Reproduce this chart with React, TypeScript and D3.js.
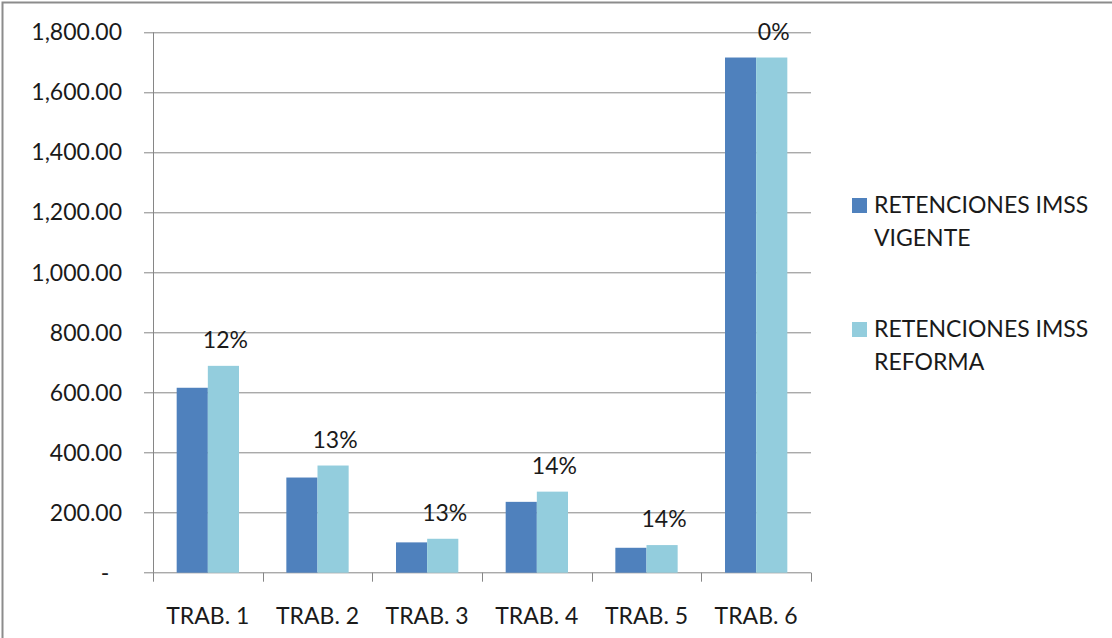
import { useEffect, useRef } from "react";
import * as d3 from "d3";

const CATEGORIES = ["TRAB. 1", "TRAB. 2", "TRAB. 3", "TRAB. 4", "TRAB. 5", "TRAB. 6"];
const VIGENTE = [616, 317, 101, 236, 83, 1716];
const REFORMA = [689, 357, 113, 270, 92, 1716];
const PCT_LABELS = ["12%", "13%", "13%", "14%", "14%", "0%"];
const Y_TICKS = [0, 200, 400, 600, 800, 1000, 1200, 1400, 1600, 1800];
const SERIES = [
  { name: ["RETENCIONES IMSS", "VIGENTE"], color: "#4f81bd" },
  { name: ["RETENCIONES IMSS", "REFORMA"], color: "#93cddd" },
];

const W = 1112;
const H = 638;
const FONT = "Lato, 'Open Sans', sans-serif";
const FS = 23;

export default function App() {
  const svgRef = useRef<SVGSVGElement>(null);

  useEffect(() => {
    const svg = svgRef.current;
    if (!svg) return;
    const s = d3.select(svg);
    s.selectAll("*").remove();

    const m = { top: 32.3, left: 153, right: W - 811, bottom: H - 572.7 };
    const iW = W - m.left - m.right;
    const iH = H - m.top - m.bottom;
    const grid = "#868686";

    // outer chart border (only top and left visible, rest is cropped)
    s.append("path")
      .attr("d", `M2.5,${H} V2.5 H${W}`)
      .attr("fill", "none")
      .attr("stroke", "#8c8c8c")
      .attr("stroke-width", 2);

    const g = s.append("g").attr("transform", `translate(${m.left},${m.top})`);

    const x0 = d3.scaleBand<string>().domain(CATEGORIES).range([0, iW]).padding(0);
    const x1 = d3
      .scaleBand<number>()
      .domain([0, 1])
      .range([0, x0.bandwidth()])
      .paddingInner(0)
      .paddingOuter(0.76);
    const y = d3.scaleLinear().domain([0, 1800]).range([iH, 0]);

    // gridlines + y ticks
    g.append("g")
      .selectAll("line")
      .data(Y_TICKS)
      .join("line")
      .attr("x1", -9)
      .attr("x2", iW)
      .attr("y1", (d) => Math.round(y(d)) + 0.5)
      .attr("y2", (d) => Math.round(y(d)) + 0.5)
      .attr("stroke", grid)
      .attr("stroke-width", 1);

    // y labels
    g.append("g")
      .selectAll("text")
      .data(Y_TICKS)
      .join("text")
      .attr("x", (d) => (d === 0 ? -48 : -31))
      .attr("y", (d) => y(d))
      .attr("dy", "0.35em")
      .attr("text-anchor", (d) => (d === 0 ? "middle" : "end"))
      .attr("font-family", FONT)
      .attr("font-size", FS)
      .attr("fill", "#1a1a1a")
      .text((d) => (d === 0 ? "-" : d3.format(",.2f")(d)));

    // y axis line
    g.append("line")
      .attr("x1", 0.5)
      .attr("x2", 0.5)
      .attr("y1", 0)
      .attr("y2", iH)
      .attr("stroke", grid);

    // category tick marks
    const bounds = CATEGORIES.map((c) => x0(c) ?? 0).concat([iW]);
    g.append("g")
      .selectAll("line")
      .data(bounds)
      .join("line")
      .attr("x1", (d) => Math.round(d) + 0.5)
      .attr("x2", (d) => Math.round(d) + 0.5)
      .attr("y1", iH)
      .attr("y2", iH + 9)
      .attr("stroke", grid);

    // bars
    const cat = g
      .selectAll<SVGGElement, string>(".cat")
      .data(CATEGORIES)
      .join("g")
      .attr("class", "cat")
      .attr("transform", (d) => `translate(${x0(d)},0)`);

    [VIGENTE, REFORMA].forEach((vals, si) => {
      cat
        .append("rect")
        .attr("x", x1(si) ?? 0)
        .attr("width", x1.bandwidth())
        .attr("y", (_d, i) => y(vals[i]))
        .attr("height", (_d, i) => iH - y(vals[i]))
        .attr("fill", SERIES[si].color);
    });

    // percent labels above the reforma bar
    cat
      .append("text")
      .attr("x", (x1(1) ?? 0) + x1.bandwidth() / 2 + 2)
      .attr("y", (_d, i) => y(REFORMA[i]) - 18)
      .attr("text-anchor", "middle")
      .attr("font-family", FONT)
      .attr("font-size", FS)
      .attr("fill", "#1a1a1a")
      .text((_d, i) => PCT_LABELS[i]);

    // category labels
    g.append("g")
      .selectAll("text")
      .data(CATEGORIES)
      .join("text")
      .attr("x", (d) => (x0(d) ?? 0) + x0.bandwidth() / 2)
      .attr("y", iH + 51)
      .attr("text-anchor", "middle")
      .attr("font-family", FONT)
      .attr("font-size", FS)
      .attr("fill", "#1a1a1a")
      .text((d) => d);

    // legend
    const lg = s
      .append("g")
      .selectAll("g")
      .data(SERIES)
      .join("g")
      .attr("transform", (_d, i) => `translate(852,${198 + i * 124})`);
    lg.append("rect").attr("width", 15).attr("height", 15).attr("fill", (d) => d.color);
    lg.append("text")
      .attr("x", 22)
      .attr("y", 15)
      .attr("font-family", FONT)
      .attr("font-size", FS)
      .attr("fill", "#1a1a1a")
      .selectAll("tspan")
      .data((d) => d.name)
      .join("tspan")
      .attr("x", 22)
      .attr("dy", (_d, i) => (i === 0 ? 0 : 33))
      .text((d) => d);
  }, []);

  return (
    <div style={{ position: "fixed", left: 0, top: 0, background: "#fff" }}>
      <svg ref={svgRef} width={W} height={H} style={{ display: "block" }} />
    </div>
  );
}
